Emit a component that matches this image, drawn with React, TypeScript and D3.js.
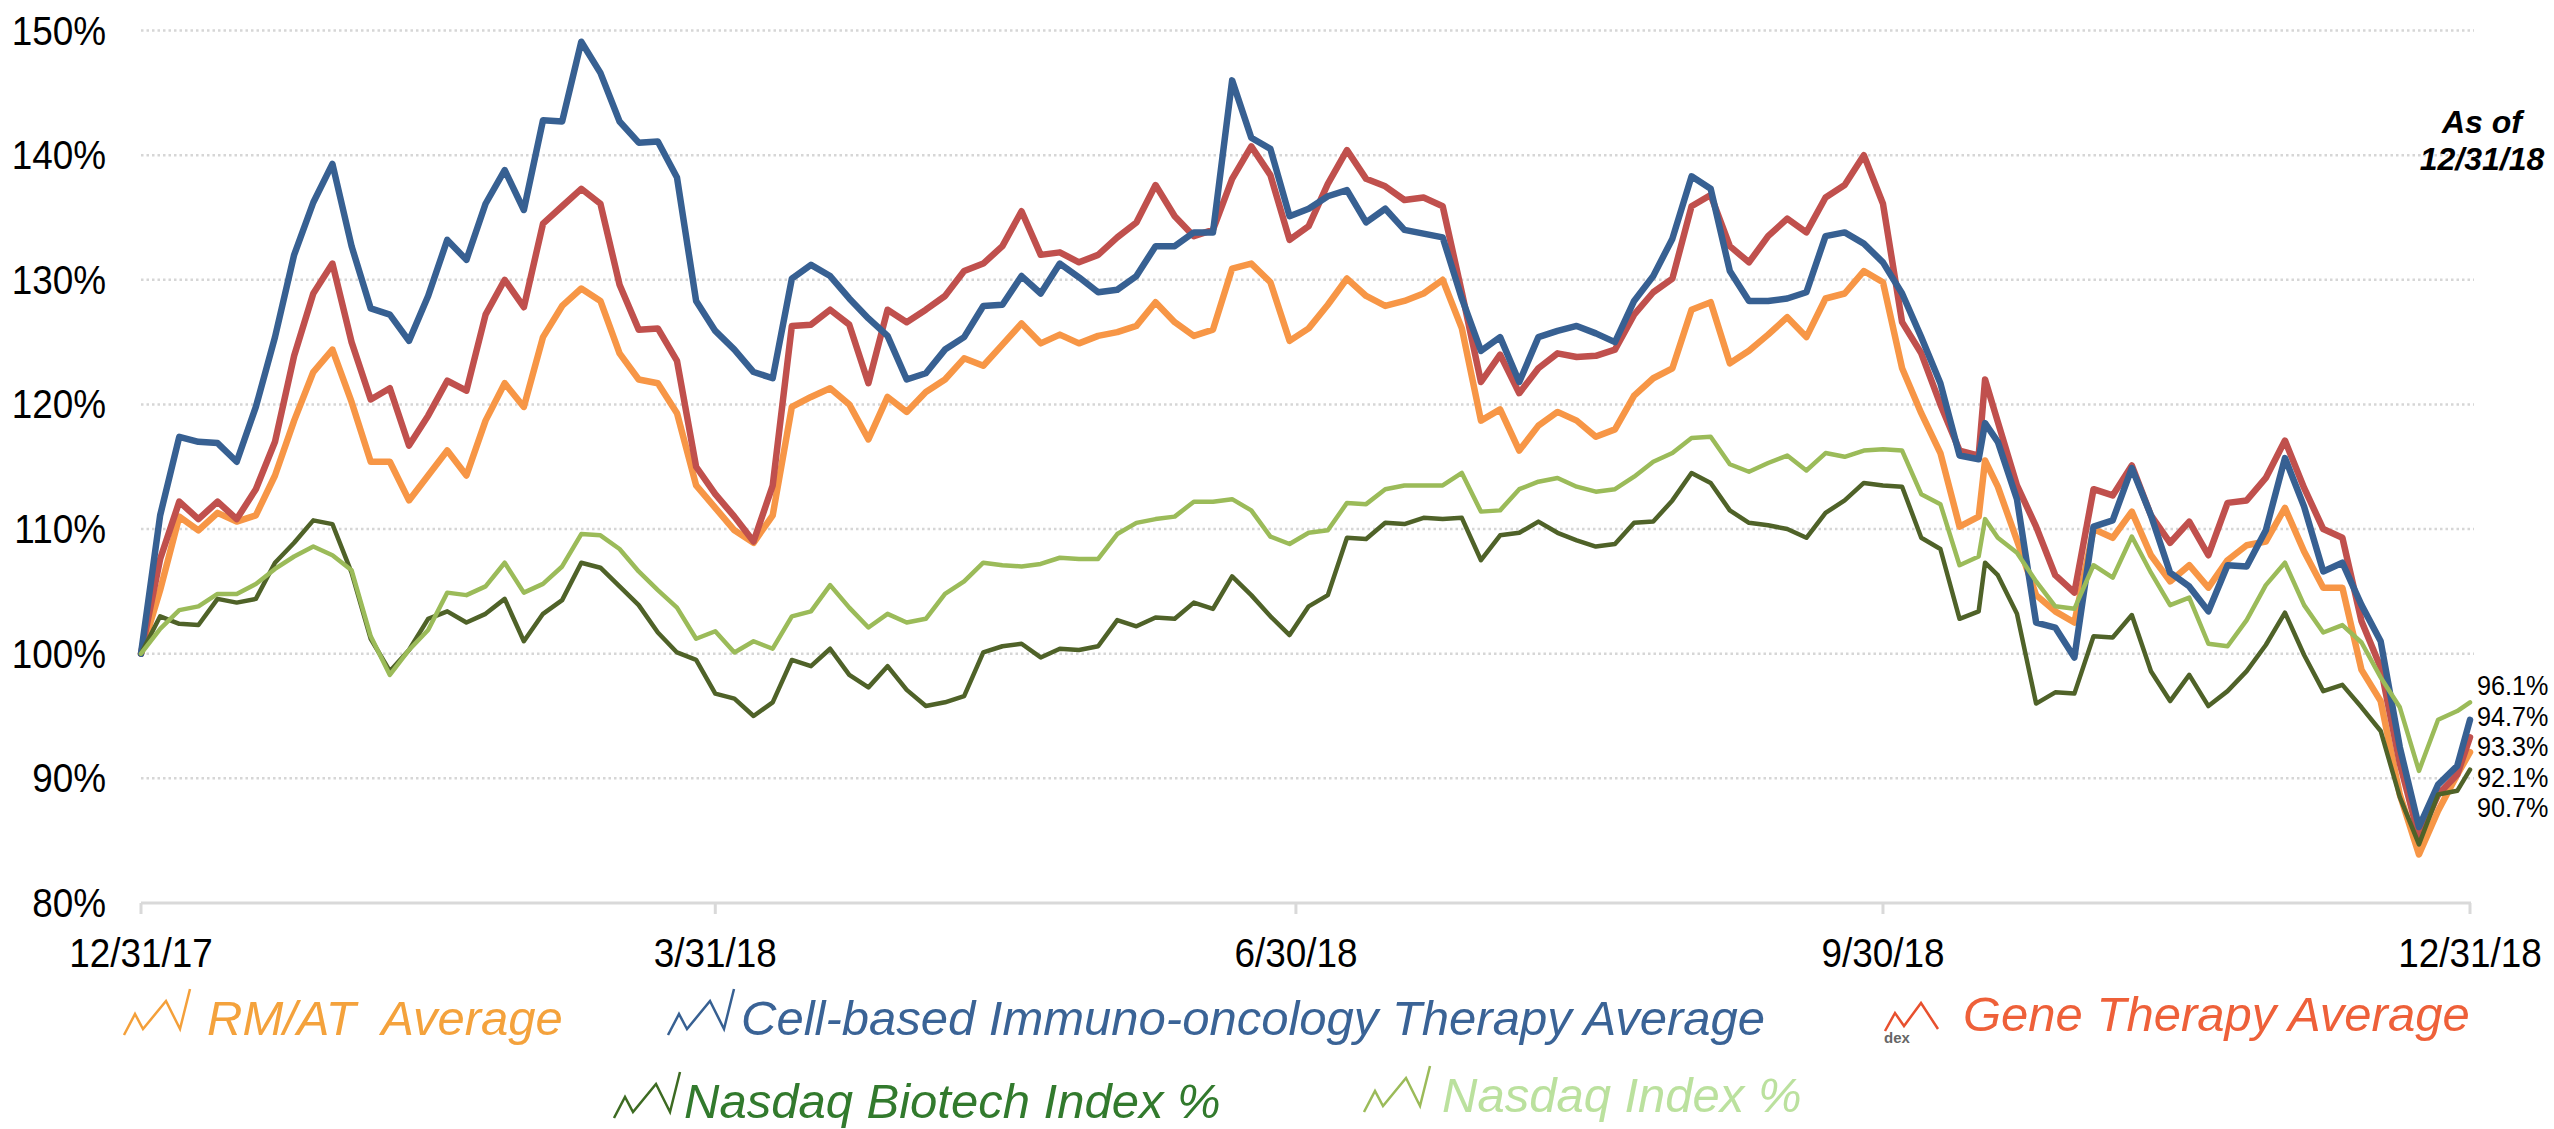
import React from 'react';
import * as d3 from 'd3';

// calendar-day offsets from 12/31/17 for every sample
const dayOffsets = [
  0, 3, 6, 9, 12, 15, 18, 21, 24, 27,
  30, 33, 36, 39, 42, 45, 48, 51, 54, 57,
  60, 63, 66, 69, 72, 75, 78, 81, 84, 87,
  90, 93, 96, 99, 102, 105, 108, 111, 114, 117,
  120, 123, 126, 129, 132, 135, 138, 141, 144, 147,
  150, 153, 156, 159, 162, 165, 168, 171, 174, 177,
  180, 183, 186, 189, 192, 195, 198, 201, 204, 207,
  210, 213, 216, 219, 222, 225, 228, 231, 234, 237,
  240, 243, 246, 249, 252, 255, 258, 261, 264, 267,
  270, 273, 276, 279, 282, 285, 288, 289, 291, 294,
  297, 300, 303, 306, 309, 312, 315, 318, 321, 324,
  327, 330, 333, 336, 339, 342, 345, 348, 351, 354,
  357, 360, 363, 365,
];

const rmatAverage = [
  100, 105.1, 111.0, 109.9, 111.3, 110.6, 111.1, 114.3, 118.7, 122.6,
  124.4, 120.2, 115.4, 115.4, 112.3, 114.3, 116.3, 114.3, 118.7, 121.7,
  119.8, 125.4, 127.9, 129.3, 128.3, 124.1, 122.0, 121.7, 119.3, 113.5,
  111.7, 109.9, 108.9, 111.1, 119.8, 120.6, 121.3, 120.0, 117.2, 120.6,
  119.4, 121.0, 122.0, 123.7, 123.1, 124.8, 126.5, 124.9, 125.6, 124.9,
  125.5, 125.8, 126.3, 128.2, 126.6, 125.5, 126.0, 130.9, 131.3, 129.8,
  125.1, 126.1, 128.0, 130.1, 128.7, 127.9, 128.3, 128.9, 130.0, 126.1,
  118.7, 119.6, 116.3, 118.3, 119.4, 118.7, 117.4, 118.0, 120.7, 122.1,
  122.9, 127.6, 128.2, 123.3, 124.3, 125.6, 127.0, 125.4, 128.5, 128.9,
  130.7, 129.8, 122.9, 119.3, 116.1, 110.2, 111.0, 115.5, 113.4, 109.1,
  104.7, 103.4, 102.5, 110.0, 109.3, 111.4, 107.9, 105.8, 107.1, 105.3,
  107.5, 108.7, 109.0, 111.7, 108.2, 105.3, 105.3, 98.7, 96.2, 88.7,
  83.9, 87.4, 90.3, 92.1,
];

const cellImmunoAverage = [
  100, 111.1, 117.4, 117.0, 116.9, 115.4, 119.8, 125.4, 132.0, 136.2,
  139.3, 132.7, 127.7, 127.2, 125.1, 128.7, 133.2, 131.6, 136.1, 138.8,
  135.6, 142.8, 142.7, 149.1, 146.6, 142.7, 141.0, 141.1, 138.2, 128.3,
  125.9, 124.4, 122.6, 122.1, 130.1, 131.2, 130.3, 128.5, 126.9, 125.5,
  122.0, 122.5, 124.4, 125.4, 127.9, 128.0, 130.3, 128.9, 131.3, 130.2,
  129.0, 129.2, 130.3, 132.7, 132.7, 133.8, 133.8, 146.0, 141.4, 140.5,
  135.1, 135.7, 136.7, 137.2, 134.6, 135.7, 134.0, 133.7, 133.4, 128.5,
  124.3, 125.4, 121.8, 125.4, 125.9, 126.3, 125.7, 125.0, 128.3, 130.3,
  133.3, 138.3, 137.3, 130.7, 128.3, 128.3, 128.5, 129.0, 133.5, 133.8,
  132.9, 131.4, 128.9, 125.4, 121.7, 115.9, 115.6, 118.5, 117.0, 112.4,
  102.5, 102.1, 99.7, 110.2, 110.7, 114.9, 111.1, 106.5, 105.4, 103.4,
  107.1, 107.0, 109.9, 115.7, 111.8, 106.6, 107.3, 103.9, 101.0, 92.5,
  86.1, 89.5, 91.0, 94.7,
];

const geneTherapyAverage = [
  100, 107.6, 112.2, 110.8, 112.2, 110.8, 113.2, 117.0, 123.9, 128.9,
  131.3, 125.0, 120.4, 121.3, 116.7, 119.1, 121.9, 121.1, 127.2, 130.0,
  127.8, 134.5, 135.9, 137.3, 136.1, 129.6, 126.0, 126.1, 123.5, 115.0,
  112.8, 111.0, 109.0, 113.5, 126.3, 126.4, 127.6, 126.4, 121.7, 127.6,
  126.6, 127.6, 128.7, 130.7, 131.3, 132.7, 135.5, 132.0, 132.2, 131.4,
  132.0, 133.4, 134.6, 137.6, 135.1, 133.5, 134.0, 138.1, 140.7, 138.4,
  133.2, 134.3, 137.7, 140.4, 138.1, 137.5, 136.4, 136.6, 135.9, 129.0,
  121.8, 124.0, 120.9, 122.9, 124.1, 123.8, 123.9, 124.4, 127.2, 129.0,
  130.1, 135.9, 136.8, 132.7, 131.4, 133.5, 134.9, 133.8, 136.6, 137.6,
  140.0, 136.1, 126.6, 124.1, 120.0, 116.3, 115.9, 122.0, 118.6, 113.5,
  110.2, 106.3, 104.9, 113.2, 112.7, 115.1, 111.1, 108.9, 110.6, 107.9,
  112.1, 112.3, 114.1, 117.1, 113.3, 110.0, 109.3, 102.6, 98.9, 91.2,
  85.3, 88.7, 90.3, 93.3,
];

const nasdaqBiotech = [
  100, 103.0, 102.4, 102.3, 104.4, 104.1, 104.4, 107.3, 108.9, 110.7,
  110.4, 106.5, 101.2, 98.6, 100.3, 102.8, 103.4, 102.5, 103.2, 104.4,
  101.0, 103.2, 104.3, 107.3, 106.9, 105.4, 103.9, 101.7, 100.1, 99.5,
  96.8, 96.4, 95.0, 96.1, 99.5, 99.0, 100.4, 98.3, 97.3, 99.0,
  97.1, 95.8, 96.1, 96.6, 100.1, 100.6, 100.8, 99.7, 100.4, 100.3,
  100.6, 102.7, 102.2, 102.9, 102.8, 104.1, 103.6, 106.2, 104.7, 103.0,
  101.5, 103.8, 104.7, 109.3, 109.2, 110.5, 110.4, 110.9, 110.8, 110.9,
  107.5, 109.5, 109.7, 110.6, 109.7, 109.1, 108.6, 108.8, 110.5, 110.6,
  112.3, 114.5, 113.7, 111.5, 110.5, 110.3, 110.0, 109.3, 111.3, 112.3,
  113.7, 113.5, 113.4, 109.3, 108.4, 102.8, 103.4, 107.3, 106.3, 103.2,
  96.0, 96.9, 96.8, 101.4, 101.3, 103.1, 98.6, 96.2, 98.3, 95.8,
  97.0, 98.6, 100.7, 103.3, 99.9, 97.0, 97.5, 95.7, 93.8, 88.5,
  84.7, 88.7, 89.0, 90.7,
];

const nasdaqIndex = [
  100, 102.0, 103.5, 103.8, 104.8, 104.8, 105.6, 106.8, 107.8, 108.6,
  107.9, 106.7, 101.4, 98.3, 100.3, 101.9, 104.9, 104.7, 105.4, 107.3,
  104.9, 105.6, 107.0, 109.6, 109.5, 108.4, 106.6, 105.1, 103.7, 101.2,
  101.8, 100.1, 101.0, 100.4, 103.0, 103.4, 105.5, 103.7, 102.1, 103.2,
  102.5, 102.8, 104.8, 105.8, 107.3, 107.1, 107.0, 107.2, 107.7, 107.6,
  107.6, 109.6, 110.5, 110.8, 111.0, 112.2, 112.2, 112.4, 111.5, 109.4,
  108.8, 109.7, 109.9, 112.1, 112.0, 113.2, 113.5, 113.5, 113.5, 114.5,
  111.4, 111.5, 113.2, 113.8, 114.1, 113.4, 113.0, 113.2, 114.2, 115.4,
  116.1, 117.3, 117.4, 115.2, 114.6, 115.3, 115.9, 114.7, 116.1, 115.8,
  116.3, 116.4, 116.3, 112.8, 112.0, 107.1, 107.8, 110.8, 109.3, 108.1,
  105.8, 103.8, 103.6, 107.1, 106.1, 109.4, 106.5, 103.9, 104.5, 100.8,
  100.6, 102.7, 105.5, 107.3, 103.9, 101.7, 102.3, 100.9, 98.1, 95.7,
  90.6, 94.7, 95.4, 96.1,
];

const yTicks = [80, 90, 100, 110, 120, 130, 140, 150];
const xTickLabels = ['12/31/17', '3/31/18', '6/30/18', '9/30/18', '12/31/18'];
const endLabels = ['96.1%', '94.7%', '93.3%', '92.1%', '90.7%'];

const START = new Date(2017, 11, 31);
const parseTick = d3.timeParse('%m/%d/%y');

const FONT = '"Liberation Sans", Arial, Helvetica, sans-serif';

// drawing order (bottom to top)
const series = [
  { key: 'rmat', values: rmatAverage, color: '#F79646', width: 6.5 },
  { key: 'gene', values: geneTherapyAverage, color: '#C0504D', width: 6.5 },
  { key: 'cell', values: cellImmunoAverage, color: '#376092', width: 6.5 },
  { key: 'nbi', values: nasdaqBiotech, color: '#4F6228', width: 4.5 },
  { key: 'ndx', values: nasdaqIndex, color: '#9BBB59', width: 4.5 },
];

// little zigzag glyph in front of each legend entry
const zig = [[0, 0], [11, -21], [19, -6], [42, -34], [56, -6], [66, -46]];
const zigGene = [[0, 0], [10, -18], [19, -5], [36, -28], [53, -2]];

const legend = [
  { label: 'RM/AT  Average', color: '#F4A23C', icon: '#F4A03A', ix: 124, tx: 207, y: 1035, shape: zig },
  { label: 'Cell-based Immuno-oncology Therapy Average', color: '#3A6396', icon: '#376092', ix: 668, tx: 741, y: 1035, shape: zig },
  { label: 'Gene Therapy Average', color: '#EE6039', icon: '#E8502E', ix: 1885, tx: 1963, y: 1031, shape: zigGene },
  { label: 'Nasdaq Biotech Index %', color: '#327A2D', icon: '#3D6B22', ix: 614, tx: 684, y: 1118, shape: zig },
  { label: 'Nasdaq Index %', color: '#BBE19E', icon: '#9BBB59', ix: 1364, tx: 1442, y: 1112, shape: zig },
];

const App = () => {
  const svgWidth = 2554;
  const svgHeight = 1129;

  const x = d3.scaleTime()
    .domain([START, d3.timeDay.offset(START, 365)])
    .range([141, 2470]);
  const y = d3.scaleLinear().domain([80, 150]).range([903, 30.5]);

  const dates = dayOffsets.map(d => d3.timeDay.offset(START, d));

  const linefunc = d3.line<[Date, number]>()
    .x(d => x(d[0]))
    .y(d => y(d[1]));

  const paths = series.map(s => (
    <path
      key={s.key}
      fill="none"
      stroke={s.color}
      strokeWidth={s.width}
      strokeLinejoin="round"
      strokeLinecap="round"
      d={linefunc(dates.map((dt, i) => [dt, s.values[i]] as [Date, number])) || ''}
    />
  ));

  const iconLine = d3.line<number[]>().x(p => p[0]).y(p => p[1]);

  return (
    <div>
      <style>{`body{margin:0;}`}</style>
      <svg width={svgWidth} height={svgHeight} style={{ display: 'block', background: '#fff' }} fontFamily={FONT}>
        {/* gridlines */}
        {yTicks.filter(t => t > 80).map(t => (
          <line key={'g' + t} x1={141} x2={2474} y1={y(t)} y2={y(t)}
            stroke="#d6d6d6" strokeWidth={2.5} strokeDasharray="2.5,3" />
        ))}
        {/* x axis */}
        <line x1={141} x2={2471} y1={y(80)} y2={y(80)} stroke="#d9d9d9" strokeWidth={3} />
        {xTickLabels.map(lbl => {
          const xp = x(parseTick(lbl) as Date);
          return (
            <g key={lbl}>
              <line x1={xp} x2={xp} y1={y(80)} y2={y(80) + 11} stroke="#d9d9d9" strokeWidth={3} />
              <text transform={`translate(${xp},${y(80) + 64}) scale(0.9,1)`} textAnchor="middle"
                fontSize={41} fill="#000">{lbl}</text>
            </g>
          );
        })}
        {/* y labels */}
        {yTicks.map(t => (
          <text key={'y' + t} transform={`translate(106,${y(t) + 14}) scale(0.9,1)`} textAnchor="end"
            fontSize={41} fill="#000">{t + '%'}</text>
        ))}

        <g>{paths}</g>

        {/* end values */}
        {endLabels.map((lbl, i) => (
          <text key={lbl} transform={`translate(2477,${695 + i * 30.5}) scale(0.9,1)`}
            fontSize={28} fill="#000">{lbl}</text>
        ))}

        {/* as-of note */}
        <text x={2482} y={133} textAnchor="middle" fontSize={32} fontWeight="bold" fontStyle="italic">As of</text>
        <text x={2482} y={170} textAnchor="middle" fontSize={32} fontWeight="bold" fontStyle="italic">12/31/18</text>

        {/* legend */}
        {legend.map(l => (
          <g key={l.label}>
            <path d={iconLine(l.shape.map(p => [l.ix + p[0], l.y + p[1]])) || ''} fill="none"
              stroke={l.icon} strokeWidth={2.5} />
            <text x={l.tx} y={l.y} fontSize={49} fontStyle="italic" fill={l.color}
              style={{ whiteSpace: 'pre' }}>{l.label}</text>
          </g>
        ))}
        <text x={1884} y={1043} fontSize={15} fontWeight="bold" fill="#666">dex</text>
      </svg>
    </div>
  );
};

export default App;
